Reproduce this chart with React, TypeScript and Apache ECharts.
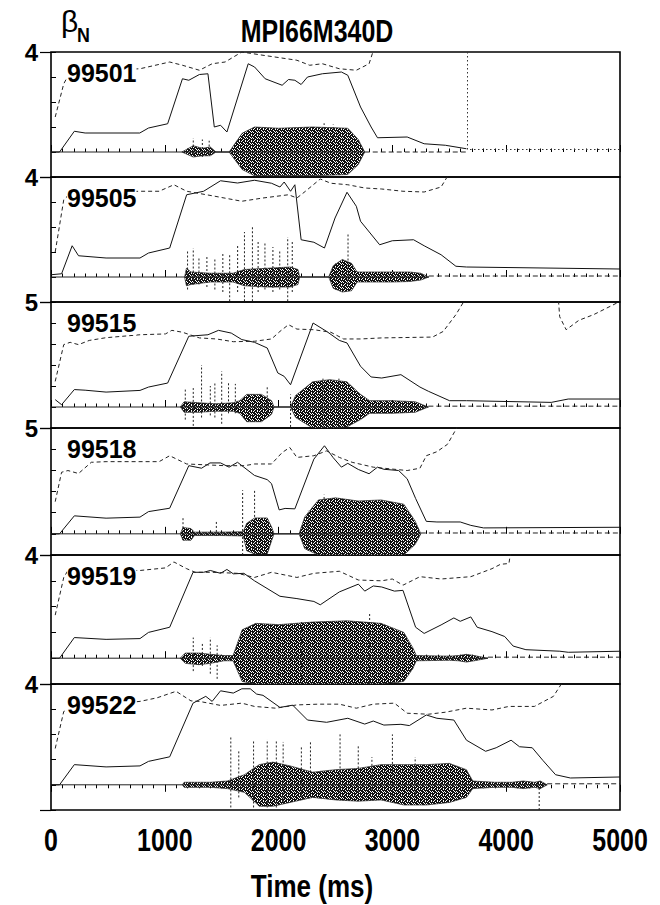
import React, { useEffect, useRef } from "react";
import * as echarts from "echarts";

// ---------- data ----------
const shotLabels = ["99501", "99505", "99515", "99518", "99519", "99522"];
const yTopValues = [4, 4, 5, 5, 4, 4];
const xTicks = [0, 1000, 2000, 3000, 4000, 5000];

// solid beta_N traces [t(ms), value]
const betaN_99501 = [[0,0],[75,0],[205,0.83],[300,0.76],[780,0.76],[857,0.96],[1025,1.13],[1155,2.93],[1211,2.87],[1304,3.1],[1379,3.13],[1435,1.0],[1490,1.07],[1546,0.8],[1733,3.53],[1789,3.4],[1882,2.93],[2031,2.67],[2087,2.9],[2143,2.87],[2198,2.7],[2254,3.0],[2385,3.13],[2552,3.2],[2608,3.07],[2720,1.8],[2813,1.0],[2869,0.57],[3130,0.6],[3279,0.33],[3465,0.27],[3651,0.13]];
const betaN_99505 = [[0,0.09],[93,0.13],[186,1.25],[242,0.85],[484,0.76],[782,0.76],[857,0.96],[1043,1.16],[1192,3.29],[1341,3.43],[1490,3.85],[1639,3.76],[1788,3.87],[1938,3.75],[2012,3.6],[2049,3.8],[2105,3.43],[2143,3.69],[2198,1.49],[2310,1.39],[2403,1.16],[2496,2.36],[2601,3.39],[2683,2.83],[2720,2.23],[2888,1.29],[2999,1.45],[3186,1.49],[3279,1.25],[3428,0.89],[3558,0.43],[3651,0.4],[5000,0.32]];
const betaN_99515 = [[37,0.35],[93,0.11],[205,0.83],[300,0.8],[484,0.71],[782,0.79],[857,0.95],[1025,1.14],[1211,3.37],[1379,3.44],[1472,3.65],[1584,3.52],[1677,3.21],[1788,3.08],[1900,2.81],[1993,1.62],[2049,1.46],[2105,1.06],[2303,4.0],[2422,3.6],[2534,3.17],[2601,3.05],[2720,1.94],[2813,1.43],[2906,1.38],[3075,1.54],[3242,0.95],[3316,0.75],[3502,0.3],[3651,0.3],[4396,0.22],[4545,0.38],[5000,0.38]];
const betaN_99518 = [[0,0],[75,0],[205,0.85],[484,0.74],[782,0.79],[857,1.05],[1043,1.21],[1211,3.22],[1323,3.1],[1397,3.35],[1490,3.35],[1565,3.15],[1639,3.38],[1788,2.76],[1900,2.56],[1938,2.37],[2005,1.13],[2057,1.2],[2143,1.18],[2310,3.53],[2403,4.16],[2478,3.61],[2552,3.15],[2608,3.33],[2701,3.04],[2795,2.84],[2869,3.15],[2925,3.05],[3055,2.99],[3130,2.6],[3204,1.67],[3298,0.59],[3391,0.56],[3596,0.56],[3689,0.4],[3800,0.28],[5000,0.31]];
const betaN_99519 = [[0,0],[75,0],[205,0.8],[484,0.73],[782,0.76],[857,1.0],[1043,1.2],[1248,3.33],[1341,3.33],[1400,3.4],[1490,3.29],[1546,3.44],[1602,3.27],[1695,3.29],[1788,3.0],[2012,2.4],[2161,2.31],[2310,2.2],[2366,2.07],[2534,2.57],[2701,2.87],[2757,2.6],[2832,2.8],[2906,2.76],[3018,2.6],[3093,2.63],[3204,1.2],[3279,0.96],[3428,1.29],[3540,1.56],[3596,1.43],[3689,1.6],[3745,1.2],[3875,1.03],[3987,0.84],[4061,0.47],[4173,0.33],[4471,0.27],[4545,0.23],[5000,0.27]];
const betaN_99522 = [[0,0],[75,0],[205,0.8],[484,0.71],[782,0.75],[857,0.93],[1043,1.11],[1248,3.24],[1360,3.51],[1416,3.31],[1490,3.73],[1602,3.64],[1677,3.81],[1751,3.81],[1807,3.6],[1863,3.55],[2012,3.07],[2124,3.16],[2254,2.57],[2422,2.48],[2608,2.64],[2757,2.41],[2832,2.53],[2925,2.37],[3075,2.4],[3149,2.35],[3298,2.77],[3391,2.64],[3540,2.57],[3651,1.77],[3819,1.33],[3912,1.47],[4043,1.77],[4117,1.51],[4229,1.47],[4322,0.97],[4434,0.4],[4564,0.27],[5000,0.31]];

// dashed traces [t(ms), value] (points above the panel top leave the frame)
const dashed_99501 = [[37,1.4],[112,2.73],[168,3.2],[782,3.33],[1043,3.6],[1155,3.47],[1304,3.27],[1416,3.53],[1530,3.6],[1677,4.0],[1863,3.87],[2161,3.67],[2273,3.47],[2385,3.53],[2534,3.33],[2683,3.27],[2795,3.53],[2850,4.3]];
const dashed_99505 = [[37,1.0],[112,3.09],[170,3.35],[782,3.43],[950,3.43],[1080,3.69],[1192,3.43],[1416,3.25],[1677,3.03],[1863,3.16],[2087,3.29],[2161,3.16],[2236,3.43],[2366,3.92],[2459,3.75],[2608,3.69],[2757,3.56],[2906,3.52],[3093,3.43],[3279,3.4],[3428,3.6],[3520,4.3]];
const dashed_99515 = [[37,1.22],[112,2.97],[168,3.08],[242,2.97],[336,3.17],[484,3.3],[782,3.44],[1006,3.48],[1062,3.65],[1155,3.56],[1304,3.29],[1453,3.24],[1602,3.11],[1788,3.13],[1938,3.24],[2012,3.6],[2087,3.92],[2161,3.71],[2310,3.68],[2459,3.56],[2571,3.24],[2720,3.24],[2906,3.29],[3353,3.33],[3447,3.6],[3558,4.4],[3670,5.4]];
const dashed_99515b = [[4455,5.4],[4470,4.3],[4527,3.68],[4639,4.13],[4769,4.4],[4990,5.0]];
const dashed_99518 = [[37,1.52],[93,2.91],[149,2.99],[242,2.85],[354,3.38],[484,3.41],[782,3.41],[950,3.41],[1043,3.69],[1192,3.3],[1527,3.22],[1700,3.22],[1788,3.3],[1938,3.3],[2031,3.84],[2098,4.08],[2161,3.61],[2310,3.69],[2422,3.92],[2534,3.61],[2646,3.38],[2832,3.15],[2981,3.07],[3130,2.99],[3242,3.1],[3298,3.69],[3391,3.88],[3484,4.23],[3558,4.93],[3600,5.4]];
const dashed_99519 = [[37,1.67],[112,3.13],[149,3.4],[782,3.4],[1006,3.5],[1080,3.73],[1192,3.47],[1267,3.33],[1416,3.33],[1639,3.29],[1788,3.13],[1938,3.33],[2161,3.13],[2310,3.29],[2534,3.37],[2701,3.03],[2906,3.0],[2999,3.07],[3093,2.83],[3242,3.16],[3428,3.07],[3689,3.16],[3875,3.47],[3950,3.64],[4024,3.67],[4050,4.4]];
const dashed_99522 = [[37,1.44],[112,2.91],[205,3.07],[782,3.31],[931,3.45],[1099,3.71],[1230,3.33],[1304,3.31],[1490,3.15],[1677,3.24],[1788,3.11],[1975,3.04],[2161,3.17],[2347,3.2],[2534,3.2],[2683,3.04],[2832,3.2],[3018,3.24],[3130,2.84],[3316,2.8],[3465,2.88],[3651,3.04],[3875,2.97],[4024,3.11],[4248,3.11],[4415,3.51],[4490,4.04],[4520,4.4]];

// MHD oscillation amplitude envelope [t(ms), upper, lower]
const env_99501 = [[1150,0,0],[1250,0.25,-0.2],[1330,0.15,-0.15],[1400,0.2,-0.15],[1450,0,0],[1565,0,0],[1680,0.75,-0.7],[1789,1.0,-0.95],[2000,0.95,-0.95],[2300,1.0,-0.95],[2608,0.95,-0.9],[2700,0.5,-0.5],[2757,0,0]];
const env_99505 = [[1174,0,0],[1190,0.35,-0.35],[1230,0.2,-0.3],[1400,0.15,-0.2],[1600,0.15,-0.2],[1700,0.3,-0.35],[1900,0.35,-0.4],[2100,0.4,-0.4],[2170,0.3,-0.3],[2185,0,0],[2440,0,0],[2480,0.45,-0.45],[2560,0.7,-0.6],[2640,0.55,-0.55],[2690,0.2,-0.2],[3000,0.2,-0.2],[3150,0.2,-0.18],[3250,0.15,-0.12],[3320,0,0]];
const env_99515 = [[1136,0,0],[1170,0.25,-0.25],[1300,0.2,-0.25],[1450,0.15,-0.2],[1600,0.2,-0.2],[1658,0.3,-0.3],[1720,0.6,-0.7],[1850,0.6,-0.7],[1938,0.3,-0.35],[1960,0,0],[2105,0,0],[2150,0.55,-0.5],[2300,1.2,-1.0],[2450,1.3,-1.0],[2600,1.2,-0.95],[2720,0.6,-0.6],[2800,0.3,-0.3],[3000,0.3,-0.3],[3200,0.25,-0.25],[3316,0,0]];
const env_99518 = [[1136,0,0],[1160,0.3,-0.3],[1230,0.25,-0.3],[1260,0.08,-0.08],[1500,0.08,-0.08],[1690,0.1,-0.1],[1720,0.5,-0.8],[1790,0.75,-0.95],[1900,0.75,-0.95],[1940,0.3,-0.3],[1960,0,0],[2180,0,0],[2230,0.8,-0.7],[2350,1.6,-1.0],[2500,1.7,-1.0],[2700,1.55,-1.0],[2900,1.6,-1.0],[3100,1.4,-1.0],[3200,0.6,-0.5],[3250,0,0]];
const env_99519 = [[1136,0,0],[1180,0.2,-0.2],[1300,0.2,-0.25],[1400,0.15,-0.2],[1520,0.1,-0.1],[1600,0.1,-0.1],[1680,1.1,-0.9],[1800,1.35,-1.0],[2000,1.3,-1.0],[2300,1.4,-1.0],[2600,1.45,-1.0],[2900,1.35,-1.0],[3100,1.0,-0.9],[3180,0.4,-0.4],[3210,0.1,-0.1],[3500,0.08,-0.08],[3580,0.1,-0.1],[3650,0.15,-0.15],[3720,0.1,-0.1],[3840,0,0]];
const env_99522 = [[1155,0,0],[1170,0.1,-0.1],[1400,0.1,-0.1],[1550,0.15,-0.15],[1700,0.4,-0.3],[1830,0.8,-0.85],[1950,0.9,-0.85],[2100,0.75,-0.7],[2300,0.5,-0.5],[2500,0.6,-0.6],[2700,0.65,-0.65],[2900,0.8,-0.6],[3100,0.8,-0.8],[3300,0.8,-0.8],[3500,0.85,-0.7],[3650,0.6,-0.5],[3707,0.15,-0.15],[3900,0.1,-0.1],[4050,0.1,-0.1],[4150,0.15,-0.15],[4250,0.1,-0.1],[4300,0.15,-0.15],[4360,0,0]];

// tall dotted spikes [t(ms), low, high]
const spikes_99501 = [[1250,-0.1,0.55],[1330,-0.2,0.5],[1390,-0.1,0.45],[2400,0.6,1.15],[2480,0.6,1.1]];
const spikes_99505 = [[1200,-0.5,1.1],[1250,-0.3,1.15],[1300,-0.3,0.8],[1370,-0.4,0.8],[1440,-0.5,0.75],[1510,-0.6,0.95],[1570,-0.97,0.95],[1640,-0.6,1.3],[1700,-0.97,1.8],[1770,-0.97,2.0],[1820,-0.6,1.4],[1880,-0.5,1.35],[1950,-0.6,1.2],[2010,-0.5,1.1],[2080,-0.97,1.6],[2120,-0.6,1.4],[2500,-0.5,0.6],[2610,-0.3,1.7]];
const spikes_99515 = [[1180,-0.6,0.9],[1250,-0.9,0.9],[1323,-0.5,2.0],[1400,-0.4,1.0],[1440,-0.5,1.2],[1500,-0.8,1.7],[1560,-0.3,1.2],[1620,-0.3,1.1],[1900,-0.3,1.0],[2105,-0.95,0.6],[2390,-1,1.35],[2530,-1,1.35]];
const spikes_99518 = [[1160,-0.3,0.8],[1453,-0.1,0.6],[1684,-1,2.06],[1789,-0.9,2.06],[2260,-0.8,1.1],[2400,-1,1.85]];
const spikes_99519 = [[1250,-0.5,0.8],[1330,-0.3,0.6],[1400,-0.6,0.8],[1460,-0.8,0.5],[2000,-1,1.2],[2200,-1,1.45],[2800,-1,1.75],[3050,-1,0.9]];
const spikes_99522 = [[1580,-0.9,1.9],[1650,-0.5,1.4],[1780,-0.9,1.75],[1900,-0.9,1.8],[1980,-0.9,1.75],[2040,-0.7,1.7],[2200,-0.5,1.55],[2280,-0.3,1.7],[2540,-0.3,2.0],[2700,-0.3,1.6],[2820,-0.2,1.1],[3000,-0.6,2.0],[3200,-0.5,1.1],[4290,-1,0.1]];

// end time of the oscillation signal (solid baseline before, dashed after)
const oscEnd = [2757, 3320, 3316, 3250, 3840, 4360];
// 99501: dotted trace after the signal ends
const dotted_99501 = [[3660, 4.0], [3660, 0.1], [5000, 0.1]];

const solidTraces = [betaN_99501, betaN_99505, betaN_99515, betaN_99518, betaN_99519, betaN_99522];
const dashedTraces = [[dashed_99501], [dashed_99505], [dashed_99515, dashed_99515b], [dashed_99518], [dashed_99519], [dashed_99522]];
const envelopes = [env_99501, env_99505, env_99515, env_99518, env_99519, env_99522];
const spikeSets = [spikes_99501, spikes_99505, spikes_99515, spikes_99518, spikes_99519, spikes_99522];

// ---------- layout ----------
const PANEL_TOPS = [52, 177, 302, 428, 555, 684];
const PANEL_BOTTOM = 810;
const LEFT = 51;
const PLOT_W = 569;
const SANS = "'Liberation Sans', Arial, sans-serif";
const CONDENSE = 0.78;

// fixed speckle texture used to fill the oscillation envelopes
function makeTexture() {
  const c = document.createElement("canvas");
  c.width = 6;
  c.height = 6;
  const ctx = c.getContext("2d");
  if (!ctx) return "#3a3a3a";
  ctx.fillStyle = "#111111";
  ctx.fillRect(0, 0, 6, 6);
  ctx.fillStyle = "#ffffff";
  const holes = [[1,0],[3,1],[5,0],[1,3],[3,4],[5,3],[2,2],[4,5],[0,5],[5,2]];
  holes.forEach(([x, y]) => ctx.fillRect(x, y, 1, 1));
  return { image: c, repeat: "repeat" };
}

function buildOption(texture: any) {
  const grids: any[] = [];
  const xAxes: any[] = [];
  const yAxes: any[] = [];
  const series: any[] = [];

  for (let i = 0; i < 6; i++) {
    const top = PANEL_TOPS[i];
    const h = (i < 5 ? PANEL_TOPS[i + 1] : PANEL_BOTTOM) - top;
    const ymax = yTopValues[i];
    const last = i === 5;
    grids.push({ left: LEFT, width: PLOT_W, top, height: h, show: true, borderColor: "#000", borderWidth: 1.6, backgroundColor: "transparent" });
    xAxes.push({
      type: "value", gridIndex: i, min: 0, max: 5000, interval: 1000,
      axisLine: { show: false },
      axisTick: { show: true, inside: !last, length: 7, lineStyle: { color: "#000", width: 1 } },
      minorTick: { show: true, splitNumber: 10, length: 3.5, lineStyle: { color: "#000", width: 1 } },
      splitLine: { show: false },
      axisLabel: { show: false },
    });
    yAxes.push({
      type: "value", gridIndex: i, min: -1, max: ymax, interval: 1,
      axisLine: { show: false },
      axisTick: { show: true, inside: true, length: 5, lineStyle: { color: "#000", width: 1 } },
      axisLabel: { show: false }, splitLine: { show: false },
    });
    yAxes.push({
      type: "value", gridIndex: i, min: -1, max: ymax, interval: ymax + 1, position: "left",
      axisLine: { show: false },
      axisTick: { show: true, inside: false, length: 11, lineStyle: { color: "#000", width: 1.2 } },
      splitLine: { show: false },
      axisLabel: {
        color: "#000", fontFamily: SANS, fontWeight: "bold", fontSize: 24, margin: 13,
        formatter: (v: number) => (v === ymax ? String(v) : ""),
      },
    });

    const yi = 2 * i;
    series.push({ type: "line", xAxisIndex: i, yAxisIndex: yi, showSymbol: false, silent: true,
      data: [[0, 0], [oscEnd[i], 0]], lineStyle: { color: "#222", width: 1 } });
    if (i !== 0) {
      series.push({ type: "line", xAxisIndex: i, yAxisIndex: yi, showSymbol: false, silent: true,
        data: [[oscEnd[i], 0.04], [5000, 0.04]], lineStyle: { color: "#222", width: 1, type: [5, 3] } });
    } else {
      series.push({ type: "line", xAxisIndex: i, yAxisIndex: yi, showSymbol: false, silent: true,
        data: [[oscEnd[i], 0], [3660, 0]], lineStyle: { color: "#222", width: 1, type: [5, 3] } });
      series.push({ type: "line", xAxisIndex: i, yAxisIndex: yi, showSymbol: false, silent: true,
        data: dotted_99501, lineStyle: { color: "#333", width: 1, type: [1.5, 2.5] } });
    }
    const env = envelopes[i];
    series.push({
      type: "custom", xAxisIndex: i, yAxisIndex: yi, silent: true, clip: true,
      data: [[env[0][0], 0]],
      renderItem: (params: any, api: any) => {
        const up = env.map((p) => api.coord([p[0], p[1]]));
        const lo = env.slice().reverse().map((p) => api.coord([p[0], p[2]]));
        return { type: "polygon", shape: { points: up.concat(lo) }, style: { fill: texture, stroke: "#222", lineWidth: 0.7 } };
      },
    });
    series.push({
      type: "custom", xAxisIndex: i, yAxisIndex: yi, silent: true, clip: true,
      data: spikeSets[i], encode: { x: 0, y: [1, 2] },
      renderItem: (params: any, api: any) => {
        const a = api.coord([api.value(0), api.value(1)]);
        const b = api.coord([api.value(0), api.value(2)]);
        return { type: "line", shape: { x1: a[0], y1: a[1], x2: b[0], y2: b[1] }, style: { stroke: "#222", lineWidth: 1, lineDash: [2, 2] } };
      },
    });
    series.push({ type: "line", xAxisIndex: i, yAxisIndex: yi, showSymbol: false, silent: true, clip: true,
      data: solidTraces[i], lineStyle: { color: "#111", width: 1 } });
    dashedTraces[i].forEach((d) => {
      series.push({ type: "line", xAxisIndex: i, yAxisIndex: yi, showSymbol: false, silent: true, clip: true,
        data: d, lineStyle: { color: "#222", width: 1, type: [4, 3] } });
    });
  }

  return {
    animation: false,
    backgroundColor: "#fff",
    grid: grids, xAxis: xAxes, yAxis: yAxes, series,
  };
}

function buildGraphics(chart: any) {
  const g: any[] = [];
  for (let i = 0; i < 6; i++) {
    g.push({
      type: "text", left: 67, top: PANEL_TOPS[i] + 8, z: 50,
      style: { text: shotLabels[i], font: `bold 25px ${SANS}`, fill: "#000", backgroundColor: "#fff" },
    });
  }
  // x tick labels of the bottom panel, placed through the axis scale (condensed face)
  const yLab = PANEL_BOTTOM + 30;
  xTicks.forEach((v) => {
    const px = chart.convertToPixel({ xAxisIndex: 5 }, v);
    g.push({ type: "text", x: px, y: yLab, scaleX: CONDENSE, z: 50,
      style: { text: String(v), font: `bold 32px ${SANS}`, fill: "#000", textAlign: "center", textVerticalAlign: "middle" } });
  });
  g.push({ type: "text", x: 61, y: 6, style: { text: "β", font: `30px ${SANS}`, fill: "#000", textVerticalAlign: "top" } });
  g.push({ type: "text", x: 77, y: 24, scaleX: 0.85, style: { text: "N", font: `bold 21px ${SANS}`, fill: "#000", textVerticalAlign: "top" } });
  g.push({ type: "text", x: 317, y: 31, scaleX: CONDENSE, style: { text: "MPI66M340D", font: `bold 32px ${SANS}`, fill: "#000", textAlign: "center", textVerticalAlign: "middle" } });
  g.push({ type: "text", x: 312, y: 886, scaleX: 0.84, style: { text: "Time (ms)", font: `bold 31px ${SANS}`, fill: "#000", textAlign: "center", textVerticalAlign: "middle" } });
  return g;
}

export default function App() {
  const ref = useRef<HTMLDivElement>(null);
  useEffect(() => {
    if (!ref.current) return;
    const chart = echarts.init(ref.current, undefined, { renderer: "svg" });
    chart.setOption(buildOption(makeTexture()) as any);
    chart.setOption({ graphic: buildGraphics(chart) } as any);
    return () => chart.dispose();
  }, []);
  return <div ref={ref} style={{ position: "absolute", left: 0, top: 0, width: 660, height: 905 }} />;
}
